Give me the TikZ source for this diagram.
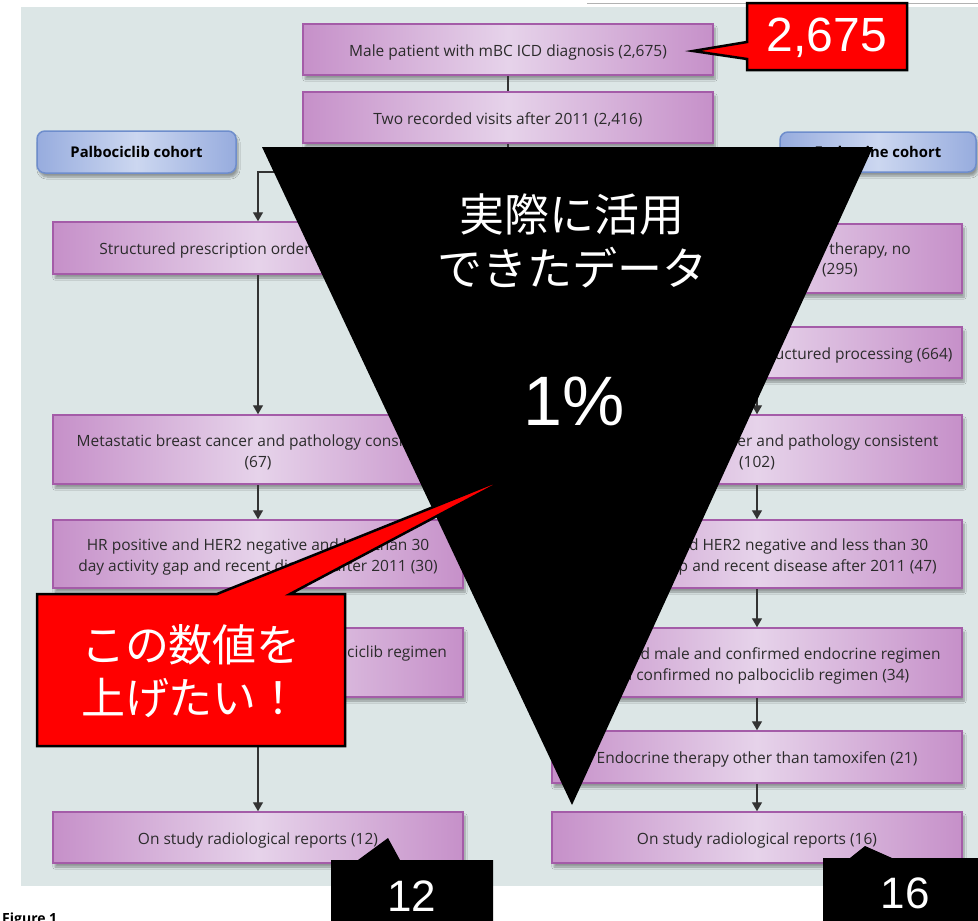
\documentclass[tikz,border=0pt]{standalone}
\usepackage{fontspec}
\setmainfont{Open Sans}
\newfontfamily\jpfont{Noto Sans CJK JP}
\newfontfamily\arialfont{Liberation Sans}
\usetikzlibrary{shadows.blur,arrows.meta}
\definecolor{panel}{HTML}{DCE6E6}
\definecolor{boxedge}{HTML}{C690C9}
\definecolor{boxmid}{HTML}{E6D3EA}
\definecolor{boxborder}{HTML}{A45CA8}
\definecolor{boxtext}{HTML}{2B2B2B}
\definecolor{cohedge}{HTML}{97ACDE}
\definecolor{cohmid}{HTML}{CCD7F0}
\definecolor{cohborder}{HTML}{6E8DCC}
\definecolor{linec}{HTML}{333333}
\definecolor{callred}{HTML}{FF0000}
\newcommand{\toppad}{\rule{0pt}{18pt}}
\begin{document}
\begin{tikzpicture}[x=1pt,y=-1pt,
  box/.style={draw=boxborder, line width=1.5pt, left color=boxedge, right color=boxedge, middle color=boxmid,
    minimum width=410pt, inner sep=0pt, align=center, text=boxtext,
    font=\fontsize{15.5}{21}\selectfont,
    execute at begin node={\rule{0pt}{17pt}},
    blur shadow={shadow xshift=2pt, shadow yshift=-4pt, shadow blur steps=6, shadow opacity=35}},
  frag/.style={inner sep=0pt, text=boxtext, font=\fontsize{15.5}{21}\selectfont},
  cohort/.style={draw=cohborder, line width=1.5pt, rounded corners=8pt, left color=cohedge, right color=cohedge, middle color=cohmid,
    inner sep=0pt, font=\fontsize{14.8}{16}\bfseries\selectfont, text=black,
    blur shadow={shadow xshift=2pt, shadow yshift=-4pt, shadow blur steps=6, shadow opacity=35}},
  ln/.style={draw=linec, line width=1.4pt},
  arr/.style={draw=linec, line width=1.4pt, -{Triangle[width=10pt,length=9pt]}},
  jp/.style={font=\jpfont\fontsize{45}{50}\selectfont, text=white, inner sep=0pt},
  num/.style={font=\arialfont\fontsize{44}{50}\selectfont, text=white, inner sep=0pt},
  callout/.style={fill=callred, draw=black, line width=2.5pt, line join=miter},
]
\useasboundingbox (0,0) rectangle (978,921);
\clip (0,0) rectangle (978,921);
\fill[white] (0,0) rectangle (978,921);
% panel
\fill[panel] (21,7) rectangle (990,886);
\draw[gray!60, line width=0.8pt] (587,3) -- (990,3);
% figure caption
\node[anchor=north west, inner sep=0pt, font=\fontsize{14}{16}\bfseries\selectfont] (fig) at (2,913) {Figure 1};

% top boxes
\node[box, minimum height=51pt] (t1) at (508,49.5) {Male patient with mBC ICD diagnosis (2,675)};
\node[box, minimum height=51pt] (t2) at (508,117.5) {Two recorded visits after 2011 (2,416)};
% cohorts
\node[cohort, minimum width=199pt, minimum height=42pt] (pal) at (136.5,152) {Palbociclib cohort};
\node[cohort, minimum width=196pt, minimum height=40pt] (endo) at (878,152) {Endocrine cohort};
% left column
\node[box, minimum height=52pt] (L1) at (258,248) {Structured prescription order for palbociclib};
\node[box, minimum height=69pt] (L2) at (258,449.5) {\toppad Metastatic breast cancer and pathology consistent\\(67)};
\node[box, minimum height=68pt] (L3) at (258,554) {\toppad HR positive and HER2 negative and less than 30\\day activity gap and recent disease after 2011 (30)};
\node[box, minimum height=69pt] (L4) at (258,662.5) {};
\node[frag, anchor=west] (L4t) at (347,653) {ciclib regimen};
\node[box, minimum height=51pt] (L5) at (258,837.5) {On study radiological reports (12)};
% right column
\node[box, minimum height=69pt] (R1) at (757,258.5) {};
\node[frag, anchor=east] (R1a) at (911,250) {therapy, no};
\node[frag, anchor=east] (R1b) at (858,270) {(295)};
\node[box, minimum height=51pt] (R2) at (757,352.5) {Endocrine therapy from unstructured processing (664)};
\node[box, minimum height=69pt] (R3) at (757,449.5) {\toppad Metastatic breast cancer and pathology consistent\\(102)};
\node[box, minimum height=68pt] (R4) at (757,554) {\toppad HR positive and HER2 negative and less than 30\\day activity gap and recent disease after 2011 (47)};
\node[box, minimum height=69pt] (R5) at (757,662.5) {\toppad Confirmed male and confirmed endocrine regimen\\and confirmed no palbociclib regimen (34)};
\node[box, minimum height=52pt] (R6) at (757,757) {Endocrine therapy other than tamoxifen (21)};
\node[box, minimum height=51pt] (R7) at (757,837.5) {On study radiological reports (16)};

% connectors
\draw[ln] (t1) -- (t2);
\coordinate (split) at (508,172);
\draw[ln] (t2) -- (split);
\draw[arr] (split) -| (L1);
\draw[arr] (split) -| (R1);
\draw[arr] (L1) -- (L2);
\draw[arr] (L2) -- (L3);
\draw[arr] (L3) -- (L4);
\draw[arr] (L4) -- (L5);
\draw[arr] (R1) -- (R2);
\draw[arr] (R2) -- (R3);
\draw[arr] (R3) -- (R4);
\draw[arr] (R4) -- (R5);
\draw[arr] (R5) -- (R6);
\draw[arr] (R6) -- (R7);

% black inverted triangle
\fill[black] (262,147) -- (873,147) -- (572,805) -- cycle;
\node[jp] (jp1) at (572,215) {実際に活用};
\node[jp] (jp2) at (572,268) {できたデータ};
\node[num, font=\arialfont\fontsize{70}{74}\selectfont] (pct) at (574,401) {1\%};

% red callout top right
\draw[callout] (747,3) -- (907,3) -- (907,70) -- (747,70) -- (747,59) -- (693,51) -- (747,42) -- cycle;
\node[num, font=\arialfont\fontsize{48}{52}\selectfont] (c2675) at (827,38) {2,675};

% red callout left
\draw[callout] (37,594) -- (217,594) -- (518,473) -- (290,594) -- (345,594) -- (345,746) -- (37,746) -- cycle;
\node[jp, font=\jpfont\fontsize{44}{50}\selectfont] (up1) at (191,645) {この数値を};
\node[jp, font=\jpfont\fontsize{44}{50}\selectfont] (up2) at (191,698) {上げたい！};

% black callouts bottom
\fill[black] (331,860) -- (358,860) -- (388,838) -- (400,860) -- (493,860) -- (493,930) -- (331,930) -- cycle;
\node[num] (n12) at (412,896) {12};
\fill[black] (823,858) -- (850,858) -- (865,846) -- (892,858) -- (990,858) -- (990,930) -- (823,930) -- cycle;
\node[num] (n16) at (905,893) {16};
\end{tikzpicture}
\end{document}
